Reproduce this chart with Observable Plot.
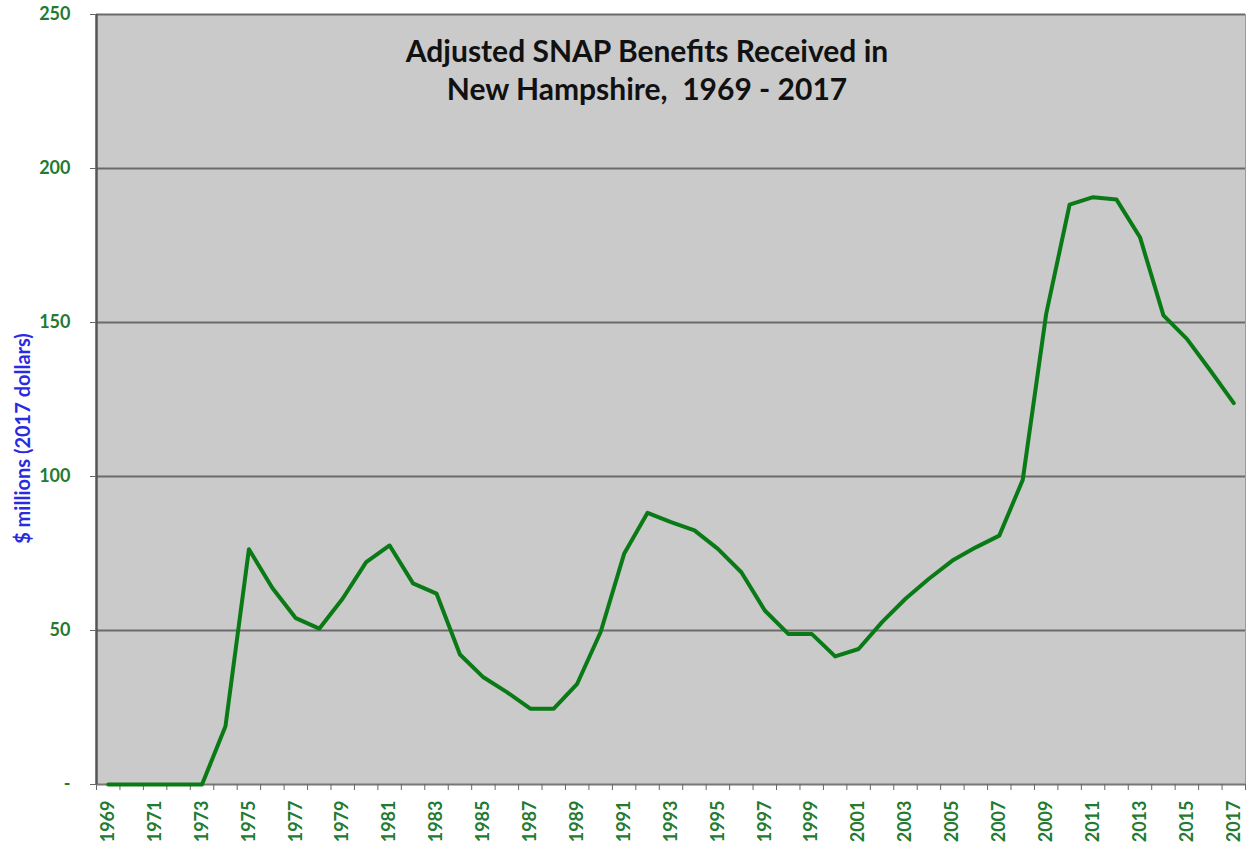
<!DOCTYPE html>
<html>
<head>
<meta charset="utf-8">
<script src="https://cdn.jsdelivr.net/npm/d3@7"></script>
<script src="https://cdn.jsdelivr.net/npm/@observablehq/plot@0.6"></script>
<style>
  html, body { margin: 0; padding: 0; background: #ffffff; }
  #chart svg { display: block; }
</style>
</head>
<body>
<div id="chart"></div>
<script>
const years = d3.range(1969, 2018);
const benefits = [
  0, 0, 0, 0, 0, 18.9, 76.4, 63.8, 54.0, 50.6,
  60.4, 72.2, 77.6, 65.3, 62.0, 42.2, 34.8, 30.0, 24.6, 24.6,
  32.7, 49.5, 74.9, 88.2, 85.2, 82.5, 76.5, 68.9, 56.5, 48.9,
  48.9, 41.6, 44.0, 52.7, 60.3, 66.8, 72.7, 77.0, 80.8, 98.9,
  152.8, 188.3, 190.7, 189.9, 177.7, 152.3, 144.7, 134.4, 123.8
];
const yTicks = [0, 50, 100, 150, 200, 250];
const xLabelYears = years.filter(y => (y - 1969) % 2 === 0);
const titleLines = ["Adjusted SNAP Benefits Received in", "New Hampshire,  1969 - 2017"];
const yTitle = "$ millions (2017 dollars)";

const data = years.map((year, i) => ({year, value: benefits[i]}));
const boundaries = d3.range(1968.5, 2018, 1);

const green = "#237a31";
const font = "Lato, 'Open Sans', sans-serif";

const chart = Plot.plot({
  width: 1249,
  height: 848,
  marginLeft: 96,
  marginRight: 4,
  marginTop: 14,
  marginBottom: 64,
  style: {fontFamily: font, background: "#ffffff"},
  x: {domain: [1968.5, 2017.5]},
  y: {domain: [0, 250]},
  marks: [
    Plot.frame({fill: "#cacaca", stroke: "#9a9a9a", strokeWidth: 1}),
    Plot.ruleY(yTicks.filter(d => d > 0), {stroke: "#6a6a6a", strokeWidth: 2.2}),
    Plot.ruleY([0], {stroke: "#777777", strokeWidth: 2}),
    Plot.ruleX([1968.5], {stroke: "#555555", strokeWidth: 2.5}),
    Plot.axisY({
      ticks: yTicks,
      tickFormat: d => d === 0 ? "-" : String(d),
      tickSize: 6,
      tickPadding: 20,
      tickStrokeWidth: 2,
      stroke: "#666666",
      fill: green,
      fontSize: 18,
      fontWeight: "bold",
      label: null
    }),
    Plot.axisX({
      ticks: boundaries,
      tickSize: 6,
      tickFormat: () => "",
      stroke: "#666666",
      tickStrokeWidth: 2,
      label: null
    }),
    Plot.axisX({
      ticks: xLabelYears,
      tickSize: 0,
      tickPadding: 16,
      tickRotate: -90,
      tickFormat: d => String(d),
      fill: green,
      fontSize: 18,
      fontWeight: "bold",
      label: null
    }),
    Plot.line(data, {x: "year", y: "value", stroke: "#0a7a16", strokeWidth: 4, strokeLinejoin: "round"}),
    Plot.text([titleLines.join("\n")], {
      frameAnchor: "top",
      dx: -24,
      dy: 20,
      lineAnchor: "top",
      lineHeight: 1.27,
      fontSize: 30,
      fontWeight: "bold",
      fill: "#111111",
      textAnchor: "middle"
    }),
    Plot.text([yTitle], {
      frameAnchor: "left",
      dx: -73,
      dy: 39,
      rotate: -90,
      fontSize: 20,
      fontWeight: "bold",
      fill: "#2a2ae0",
      textAnchor: "middle"
    })
  ]
});

document.getElementById("chart").appendChild(chart);
</script>
</body>
</html>
